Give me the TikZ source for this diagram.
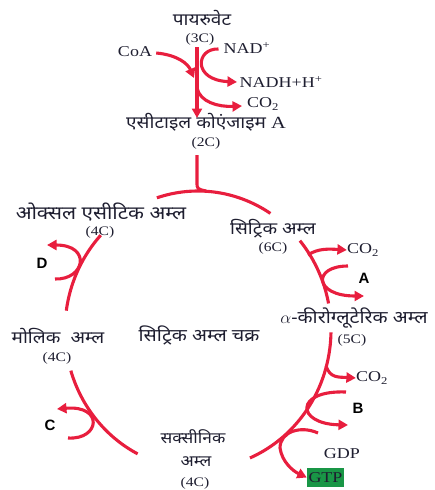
\documentclass[tikz,border=0pt]{standalone}
\usepackage{fontspec}
\usetikzlibrary{arrows.meta}
\newfontfamily\devfont[Script=Devanagari,FakeStretch=1.12]{Noto Sans}
\newfontfamily\latfont[FakeStretch=1.2]{Liberation Serif}
\newfontfamily\tagfont{Liberation Sans}
\definecolor{cyclered}{RGB}{232,30,62}
\definecolor{labelink}{RGB}{30,30,48}
\definecolor{gtpgreen}{RGB}{25,150,70}
\begin{document}
\begin{tikzpicture}[x=1pt,y=-1pt,
  flow/.style={draw=cyclered, line width=3.1pt},
  arr/.style={flow, -{Triangle[length=9.5pt,width=10pt]}},
  dev/.style={text=labelink, font=\devfont\fontsize{17}{19}\selectfont, inner sep=0pt},
  lat/.style={text=labelink, font=\latfont\fontsize{15}{17}\selectfont, inner sep=0pt},
  carb/.style={text=labelink, font=\latfont\fontsize{13}{15}\selectfont, inner sep=0pt},
  tag/.style={font=\tagfont\bfseries\fontsize{15}{17}\selectfont, inner sep=0pt}]
\useasboundingbox (0,0) rectangle (434,490);

% ---- link reaction: pyruvate to acetyl CoA ----
\node[dev]  (pyr)    at (202,18)  {पायरुवेट};
\node[carb] (pyrC)   at (200,39)  {(3C)};
\node[lat]  (coa)    at (135,52)  {CoA};
\node[lat]  (nad)    at (247,48)  {NAD\textsuperscript{+}};
\node[lat]  (nadh)   at (281,82)  {NADH+H\textsuperscript{+}};
\node[lat]  (co2a)   at (263,104) {CO\textsubscript{2}};
\node[dev]  (acoa)   at (206,122) {एसीटाइल कोएंजाइम {\latfont A}};
\node[carb] (acoaC)  at (206,143) {(2C)};

\coordinate (pyrtop) at (197,47);
\coordinate (pyrend) at (197,118);
\draw[arr] (pyrtop) -- (pyrend);
\draw[arr] (coa.east) ++(4,1) .. controls (178,55) and (188,64) .. (194,78);
\draw[arr] (nad.west) ++(-5,1) .. controls (196,48) and (192,80) .. (237,82);
\draw[arr] (197,88) .. controls (200,102) and (218,107) .. (242,106);

% ---- feed into the cycle ----
\draw[flow] (acoaC.south) ++(-9,6) -- (197,182) .. controls (197,189) .. (206,191);

% ---- cycle metabolites ----
\node[dev, font=\devfont\fontsize{18.5}{20}\selectfont]
            (oaa)   at (101,212) {ओक्सल एसीटिक अम्ल};
\node[carb] (oaaC)  at (100,232) {(4C)};
\node[dev]  (cit)   at (273,229) {सिट्रिक अम्ल};
\node[carb] (citC)  at (273,248) {(6C)};
\node[dev, font=\devfont\fontsize{17.5}{19}\selectfont]
            (akg)   at (354,318) {$\alpha$-कीरोग्लूटेरिक अम्ल};
\node[carb] (akgC)  at (352,340) {(5C)};
\node[dev]  (mal)   at (58,336)  {मोलिक\hspace{0.6em}अम्ल};
\node[carb] (malC)  at (57,358)  {(4C)};
\node[dev, font=\devfont\fontsize{17.5}{19}\selectfont]
            (cycle) at (199,335) {सिट्रिक अम्ल चक्र};
\node[dev, font=\devfont\fontsize{15.5}{17}\selectfont]
            (suc1)  at (193,437) {सक्सीनिक};
\node[dev, font=\devfont\fontsize{15.5}{17}\selectfont]
            (suc2)  at (196,462) {अम्ल};
\node[carb] (sucC)  at (195,483) {(4C)};

% ---- cycle arcs ----
\def\cyc#1#2{\draw[flow] plot[domain=#1:#2, samples=40, smooth]
  ({198+133*cos(\x)},{330-139*sin(\x)});}
\cyc{57}{108}
\cyc{11}{40}
\cyc{-67}{-1}
\cyc{197}{243}
\cyc{137}{172}

% ---- side reactions ----
\node[lat] (co2b) at (363,250) {CO\textsubscript{2}};
\node[tag] (tA)   at (364,278) {A};
\draw[arr] (308,255) .. controls (318,248) and (330,249) .. (co2b.west);
\draw[arr] (348,266) .. controls (312,266) and (314,296) .. (364,296);

\node[lat] (co2c) at (372,378) {CO\textsubscript{2}};
\node[tag] (tB)   at (358,408) {B};
\node[lat] (gdp)  at (342,454) {GDP};
\node[lat, fill=gtpgreen, inner sep=1.5pt, minimum width=35pt, minimum height=19pt]
           (gtp)  at (325.5,477.5) {GTP};
\draw[arr] (326,366) .. controls (330,378) and (338,377) .. (co2c.west);
\draw[arr] (346,392) .. controls (294,390) and (296,424) .. (348,425);
\draw[arr] (318,433) .. controls (300,425) and (280,432) .. (280,448)
                     .. controls (282,462) and (293,471) .. (gtp.west);

\node[tag] (tC) at (50,425) {C};
\draw[arr] (68,438) .. controls (100,440) and (104,405) .. (57,409);

\node[tag] (tD) at (42,263) {D};
\draw[arr] (55,279) .. controls (85,280) and (92,245) .. (47,245);
\end{tikzpicture}
\end{document}
